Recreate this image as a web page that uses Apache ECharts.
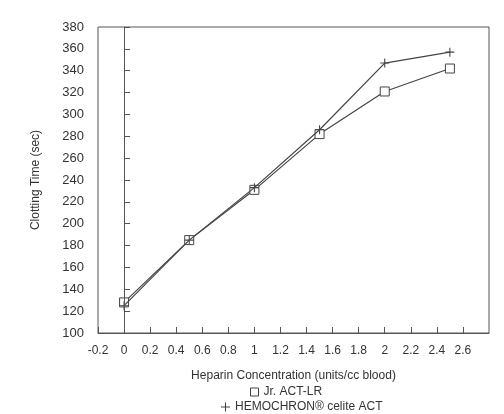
<!DOCTYPE html>
<html>
<head>
<meta charset="utf-8">
<script src="https://cdn.jsdelivr.net/npm/echarts@6/dist/echarts.min.js"></script>
<style>
  html, body { margin: 0; padding: 0; background: #fff; }
  #main { width: 504px; height: 414px; }
</style>
</head>
<body>
<div id="main"></div>
<script>
var chart = echarts.init(document.getElementById('main'));

// heparin concentration (units/cc blood)
var heparin = [0, 0.5, 1, 1.5, 2, 2.5];
// clotting time (sec)
var jrAct = [128, 185, 231, 282, 321, 342];
var hemochron = [125, 185, 233, 286, 347, 357];

var plusPath = 'path://M4.4,0H5.6V4.4H10V5.6H5.6V10H4.4V5.6H0V4.4H4.4Z';
var ink = '#444';
var font = 'Liberation Sans, Arial, sans-serif';

function pairs(xs, ys) {
    var out = [];
    for (var i = 0; i < xs.length; i++) {
        out.push([xs[i], ys[i]]);
    }
    return out;
}

var option = {
    backgroundColor: '#fff',
    animation: false,
    textStyle: { fontFamily: font, color: '#333' },
    grid: {
        left: 98, right: 15, top: 27, bottom: 81,
        show: true, borderColor: '#555', borderWidth: 1
    },
    legend: [
        {
            data: [{ name: 'Jr. ACT-LR', icon: 'rect',
                     itemStyle: { color: '#fff', borderColor: ink, borderWidth: 1 } }],
            left: 245, top: 381, itemWidth: 8, itemHeight: 8, itemGap: 4,
            textStyle: { fontSize: 12, color: '#333', fontFamily: font }
        },
        {
            data: [{ name: 'HEMOCHRON® celite ACT', icon: plusPath,
                     itemStyle: { color: ink } }],
            left: 216, top: 396, itemWidth: 9, itemHeight: 9, itemGap: 4,
            textStyle: { fontSize: 12, color: '#333', fontFamily: font }
        }
    ],
    xAxis: {
        type: 'value',
        min: -0.2, max: 2.8, interval: 0.2,
        name: 'Heparin Concentration (units/cc blood)',
        nameLocation: 'middle', nameGap: 37,
        nameTextStyle: { fontSize: 12, color: '#333' },
        axisLine: { onZero: false, lineStyle: { color: '#555' } },
        axisTick: { inside: true, length: 6, lineStyle: { color: '#555' } },
        axisLabel: {
            fontSize: 12, color: '#333', margin: 12, showMaxLabel: false,
            formatter: function (v) { return String(Math.round(v * 10) / 10); }
        },
        splitLine: { show: false }
    },
    yAxis: {
        type: 'value',
        min: 100, max: 380, interval: 20,
        name: 'Clotting Time (sec)',
        nameLocation: 'middle', nameGap: 56,
        nameTextStyle: { fontSize: 12, color: '#333' },
        axisLine: { show: true, lineStyle: { color: '#555' } },
        axisTick: { show: true, inside: true, length: 6, lineStyle: { color: '#555' } },
        axisLabel: { fontSize: 13, color: '#333', margin: 14 },
        splitLine: { show: false }
    },
    series: [
        {
            name: 'Jr. ACT-LR',
            type: 'line',
            data: pairs(heparin, jrAct),
            symbol: 'rect', symbolSize: 9,
            showAllSymbol: true,
            lineStyle: { color: ink, width: 1.2 },
            itemStyle: { color: '#fff', borderColor: ink, borderWidth: 1 },
            z: 3,
            markLine: {
                silent: true, symbol: 'none',
                label: { show: false },
                lineStyle: { color: '#555', width: 1, type: 'solid' },
                data: [{ xAxis: 0 }]
            }
        },
        {
            name: 'HEMOCHRON® celite ACT',
            type: 'line',
            data: pairs(heparin, hemochron),
            symbol: plusPath, symbolSize: 9,
            lineStyle: { color: ink, width: 1.2 },
            itemStyle: { color: ink },
            z: 4
        }
    ]
};

chart.setOption(option);
</script>
</body>
</html>
